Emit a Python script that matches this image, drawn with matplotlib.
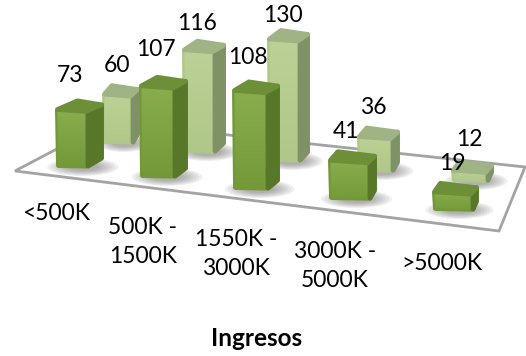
import numpy as np
import matplotlib
matplotlib.use("Agg")
import matplotlib.pyplot as plt
from matplotlib.patches import Polygon, Ellipse

categories = ["<500K", "500K -\n1500K", "1550K -\n3000K", "3000K -\n5000K", ">5000K"]
front_values = [73, 107, 108, 41, 19]
back_values = [60, 116, 130, 36, 12]
axis_title = "Ingresos"

# Projected floor anchors of each column: left x, baseline y, face width, side width
front_anchor = [(55, 168, 33, 16), (139, 178, 36, 13), (232, 190, 36, 12), (328, 200, 42, 7), (432, 211, 41, 6)]
back_anchor = [(102, 144, 31, 7), (182, 153, 33, 11), (267, 162, 33, 10), (357, 172, 36, 7), (451, 182, 37, 6)]
front_label_xy = [(70, 75), (156, 50), (248, 57), (346, 132), (452, 164)]
back_label_xy = [(117, 65), (197, 24), (283, 16), (373, 108), (469, 140)]
cat_label_xy = [(56, 214), (143, 242), (236, 254), (335, 266), (442, 263)]

FRONT = {"face": ("#8aae4e", "#729838"), "side": "#587729", "top": "#6c8f38"}
BACK = {"face": ("#bcd196", "#afc788"), "side": "#7f9266", "top": "#9fb385"}


def px_per_unit(x):
    # Columns grow slightly towards the right because of the perspective
    return 0.78 + 0.00065 * x


def soft_shadow(ax, cx, cy, w, h, z):
    for k in np.linspace(1.0, 0.45, 7):
        ax.add_patch(Ellipse((cx, cy), w * k, h * k, fc="#5c5c5c", ec="none",
                             alpha=0.085, zorder=z))


def column(ax, x, base, w, side, value, style, z):
    top = base - value * px_per_unit(x)
    skew = w * 0.06      # front edge falls slightly to the right
    rise = 8             # right side recedes upwards
    depth = 10           # depth of the cap on its left edge
    shift = side * 1.4   # horizontal offset of the cap's back-left corner
    r = 2.4              # inset that the rounded stroke fills back in
    lw = 3.4

    soft_shadow(ax, x + w * 0.6 + side * 0.5, base - 1, (w + side) * 1.45, 18, z)

    front = Polygon([(x + r, top + r), (x + w - r, top + skew + r),
                     (x + w - r, base + skew * 0.3 - r), (x + 1 + r, base - r)],
                    closed=True, fc=style["face"][1], ec=style["face"][1],
                    lw=lw, joinstyle="round", zorder=z + 1)
    ax.add_patch(front)
    grad = np.linspace(0, 1, 64)[:, None]
    cmap = matplotlib.colors.LinearSegmentedColormap.from_list("f", style["face"])
    im = ax.imshow(grad, cmap=cmap, extent=(x, x + w, base + skew, top),
                   aspect="auto", zorder=z + 2)
    im.set_clip_path(front)

    ax.add_patch(Polygon([(x + w, top + skew + r), (x + w + side - r, top + skew - rise + r),
                          (x + w + side - r, base + skew * 0.3 - rise - r),
                          (x + w, base + skew * 0.3 - r)],
                         closed=True, fc=style["side"], ec=style["side"], lw=lw,
                         joinstyle="round", zorder=z + 3))
    ax.add_patch(Polygon([(x + r, top + 1), (x + shift, top - depth + r),
                          (x + w + side - r, top + skew - rise + r), (x + w - r, top + skew + 1)],
                         closed=True, fc=style["top"], ec=style["top"], lw=lw,
                         joinstyle="round", zorder=z + 4))


fig = plt.figure(figsize=(5.26, 3.56), dpi=100)
ax = fig.add_axes([0, 0, 1, 1])
ax.set_xlim(0, 526)
ax.set_ylim(356, 0)
ax.axis("off")

# Floor of the plot
ax.add_patch(Polygon([(15, 171), (108, 122), (525, 167), (499, 231)], closed=True,
                     fc="white", ec="#a3a3a3", lw=2.0, joinstyle="miter", zorder=1))

# Back row first, then the front row over it
for i, (a, v) in enumerate(zip(back_anchor, back_values)):
    column(ax, a[0], a[1], a[2], a[3], v, BACK, 10 + i * 10)
for i, (a, v) in enumerate(zip(front_anchor, front_values)):
    column(ax, a[0], a[1], a[2], a[3], v, FRONT, 15 + i * 10)

ax.set_xlim(0, 526)
ax.set_ylim(356, 0)

font = {"family": "Lato", "color": "#000000", "zorder": 100}
for (x, y), v in zip(front_label_xy, front_values):
    ax.text(x, y, str(v), ha="center", va="center", fontsize=16.5, **font)
for (x, y), v in zip(back_label_xy, back_values):
    ax.text(x, y, str(v), ha="center", va="center", fontsize=16.5, **font)
for (x, y), c in zip(cat_label_xy, categories):
    ax.text(x, y, c, ha="center", va="center", fontsize=16.5, linespacing=1.5, **font)
ax.text(257, 338, axis_title, ha="center", va="center", fontsize=17.5,
        fontweight="bold", **font)

fig.savefig("out.png", dpi=100)
